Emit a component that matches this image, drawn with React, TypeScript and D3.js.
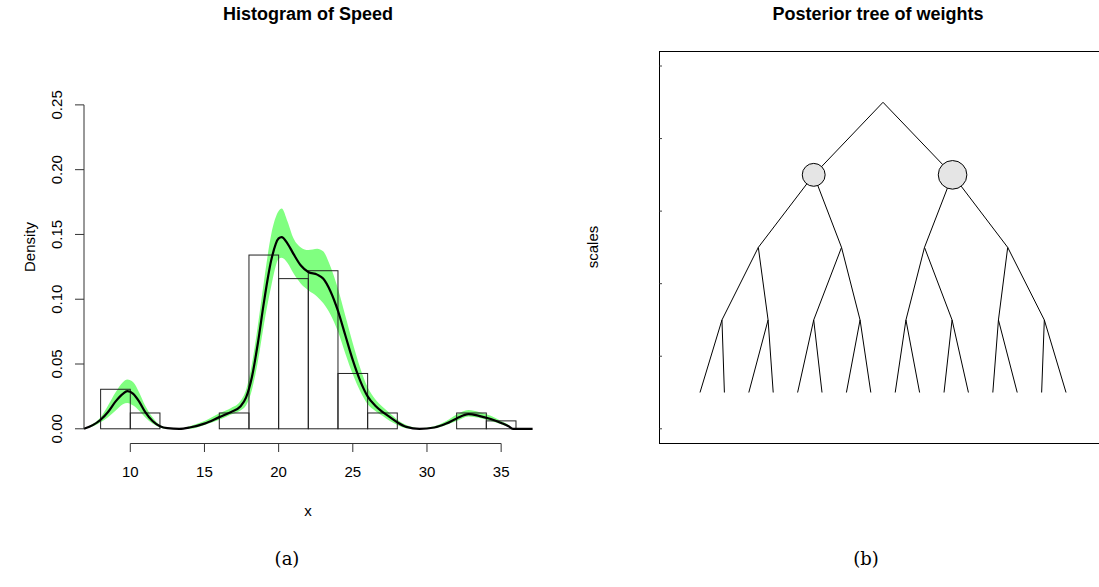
import React from 'react';
import * as d3 from 'd3';

const W = 1099;
const H = 587;

// histogram of speed (density scale)
const histBreaks = [8, 10, 12, 14, 16, 18, 20, 22, 24, 26, 28, 30, 32, 34, 36];
const histDensity = [0.0305, 0.0122, 0, 0, 0.0122, 0.1341, 0.1159, 0.122, 0.0427, 0.0122, 0, 0, 0.0122, 0.0061];

// posterior mean density with band
const densX = [6.88, 7.5, 8, 8.5, 9, 9.5, 9.8, 10.2, 10.6, 11, 11.5, 12, 12.5, 13.3, 14, 15, 16, 16.8, 17.4, 17.8, 18.2, 18.6, 19, 19.5, 20, 20.2, 20.6, 21, 21.5, 22, 22.6, 23, 23.5, 24, 24.5, 25, 25.5, 26, 26.5, 27, 27.5, 28, 28.6, 29.5, 30.5, 31.3, 32, 32.8, 33.5, 34.3, 35, 35.5, 35.8, 37.12];
const densMean = [0, 0.003, 0.007, 0.013, 0.021, 0.027, 0.029, 0.027, 0.021, 0.013, 0.006, 0.002, 0.0005, 0, 0.001, 0.004, 0.009, 0.013, 0.017, 0.024, 0.04, 0.066, 0.097, 0.13, 0.147, 0.148, 0.143, 0.135, 0.126, 0.121, 0.119, 0.116, 0.106, 0.091, 0.072, 0.053, 0.037, 0.025, 0.018, 0.013, 0.009, 0.005, 0.0015, 0, 0.001, 0.004, 0.008, 0.0113, 0.01, 0.0075, 0.0045, 0.002, 0, 0];
const densLow = [0, 0.002, 0.005, 0.009, 0.014, 0.019, 0.02, 0.018, 0.014, 0.009, 0.004, 0.001, 0, 0, 0, 0.003, 0.007, 0.011, 0.014, 0.018, 0.03, 0.052, 0.08, 0.11, 0.131, 0.132, 0.128, 0.12, 0.112, 0.107, 0.102, 0.097, 0.088, 0.075, 0.058, 0.042, 0.029, 0.019, 0.014, 0.01, 0.006, 0.003, 0.0005, 0, 0.0005, 0.003, 0.006, 0.0095, 0.0085, 0.006, 0.0035, 0.0015, 0, 0];
const densHigh = [0, 0.004, 0.009, 0.018, 0.028, 0.036, 0.038, 0.036, 0.028, 0.018, 0.009, 0.003, 0.001, 0, 0.002, 0.006, 0.012, 0.016, 0.021, 0.03, 0.05, 0.08, 0.113, 0.15, 0.168, 0.17, 0.16, 0.147, 0.14, 0.138, 0.139, 0.137, 0.125, 0.108, 0.087, 0.066, 0.047, 0.032, 0.023, 0.017, 0.012, 0.007, 0.003, 0.0005, 0.002, 0.006, 0.011, 0.0145, 0.013, 0.01, 0.006, 0.003, 0, 0];

const xTicks = [10, 15, 20, 25, 30, 35];
const yTicks = [0, 0.05, 0.1, 0.15, 0.2, 0.25];

// posterior tree: node positions per level (leaf units), root first
const treeLevels = [
  [7.5],
  [4.66, 10.35],
  [2.39, 5.8, 9.2, 12.61],
  [0.9, 2.79, 4.66, 6.56, 8.44, 10.33, 12.23, 14.11],
  [0, 1, 2, 3, 4, 5, 6, 7, 8, 9, 10, 11, 12, 13, 14, 15],
];
const levelHeights = [4.5, 3.5, 2.5, 1.5, 0.5];
const nodeWeights = [0.4, 0.5]; // weights shown at level 1
const scaleTicks = [0, 1, 2, 3, 4, 5];

const font = 'Liberation Sans, Arial, Helvetica, sans-serif';
const serif = 'DejaVu Serif, Liberation Serif, serif';

const App = () => {
  // left panel scales
  const x = d3.scaleLinear().domain([6.88, 37.12]).range([84, 532.6]);
  const y = d3.scaleLinear().domain([-0.0112, 0.2912]).range([443.3, 51.5]);

  const band = d3.area<number>()
    .x((d, i) => x(densX[i]))
    .y0((d, i) => y(densLow[i]))
    .y1((d, i) => y(densHigh[i]))
    .curve(d3.curveMonotoneX);
  const meanLine = d3.line<number>()
    .x((d, i) => x(densX[i]))
    .y(d => y(d))
    .curve(d3.curveMonotoneX);

  // right panel scales
  const tx = d3.scaleLinear().domain([-1.68, 16.31]).range([659, 1098]);
  const ty = d3.scaleLinear().domain([-0.2, 5.2]).range([443.3, 51.5]);
  const r = d3.scaleLinear().domain([0, 0.5]).range([0, 14.3]);

  const edges: { x1: number; y1: number; x2: number; y2: number; key: string }[] = [];
  for (let l = 0; l < treeLevels.length - 1; l++) {
    treeLevels[l].forEach((px, j) => {
      [2 * j, 2 * j + 1].forEach(c => {
        edges.push({
          key: `${l}-${j}-${c}`,
          x1: tx(px), y1: ty(levelHeights[l]),
          x2: tx(treeLevels[l + 1][c]), y2: ty(levelHeights[l + 1]),
        });
      });
    });
  }

  const y0 = y(0);

  return (
    <svg width={W} height={H} style={{ position: 'absolute', left: 0, top: 0, background: '#fff' }} fontFamily={font}>
      {/* ---------- (a) histogram ---------- */}
      <text x={308} y={20} textAnchor="middle" fontWeight="bold" fontSize={18}>Histogram of Speed</text>

      <path d={band(densX) || ''} fill="#80ff80" stroke="none" />

      {histDensity.map((d, i) => (
        <rect key={i}
          x={x(histBreaks[i])} y={y(d)}
          width={x(histBreaks[i + 1]) - x(histBreaks[i])} height={y0 - y(d)}
          fill="none" stroke="#222" strokeWidth={1} />
      ))}

      <path d={meanLine(densMean) || ''} fill="none" stroke="#000" strokeWidth={2.2} />

      {/* y axis */}
      <line x1={84} x2={84} y1={y(0)} y2={y(0.25)} stroke="#333" />
      {yTicks.map(t => (
        <g key={t}>
          <line x1={75} x2={84} y1={y(t)} y2={y(t)} stroke="#333" />
          <text transform={`translate(62,${y(t)}) rotate(-90)`} textAnchor="middle" fontSize={15}>{t.toFixed(2)}</text>
        </g>
      ))}
      <text transform={`translate(35,247) rotate(-90)`} textAnchor="middle" fontSize={15}>Density</text>

      {/* x axis */}
      <line x1={x(10)} x2={x(35)} y1={443.5} y2={443.5} stroke="#333" />
      {xTicks.map(t => (
        <g key={t}>
          <line x1={x(t)} x2={x(t)} y1={443.5} y2={452} stroke="#333" />
          <text x={x(t)} y={477} textAnchor="middle" fontSize={15}>{t}</text>
        </g>
      ))}
      <text x={308} y={516} textAnchor="middle" fontSize={15}>x</text>

      <text x={287} y={565} textAnchor="middle" fontSize={18} fontFamily={serif}>(a)</text>

      {/* ---------- (b) posterior tree ---------- */}
      <text x={878} y={20} textAnchor="middle" fontWeight="bold" fontSize={18}>Posterior tree of weights</text>
      <rect x={659.5} y={51.5} width={445} height={392} fill="none" stroke="#000" />
      {scaleTicks.map(t => (
        <line key={t} x1={659.5} x2={662} y1={ty(t)} y2={ty(t)} stroke="#444" />
      ))}
      <text transform={`translate(598,247) rotate(-90)`} textAnchor="middle" fontSize={15}>scales</text>

      {edges.map(e => (
        <line key={e.key} x1={e.x1} y1={e.y1} x2={e.x2} y2={e.y2} stroke="#000" strokeWidth={1} />
      ))}
      {treeLevels[1].map((px, j) => (
        <circle key={j} cx={tx(px)} cy={ty(levelHeights[1])} r={r(nodeWeights[j])}
          fill="#e5e5e5" stroke="#000" strokeWidth={1} />
      ))}

      <text x={866} y={565} textAnchor="middle" fontSize={18} fontFamily={serif}>(b)</text>
    </svg>
  );
};

export default App;
